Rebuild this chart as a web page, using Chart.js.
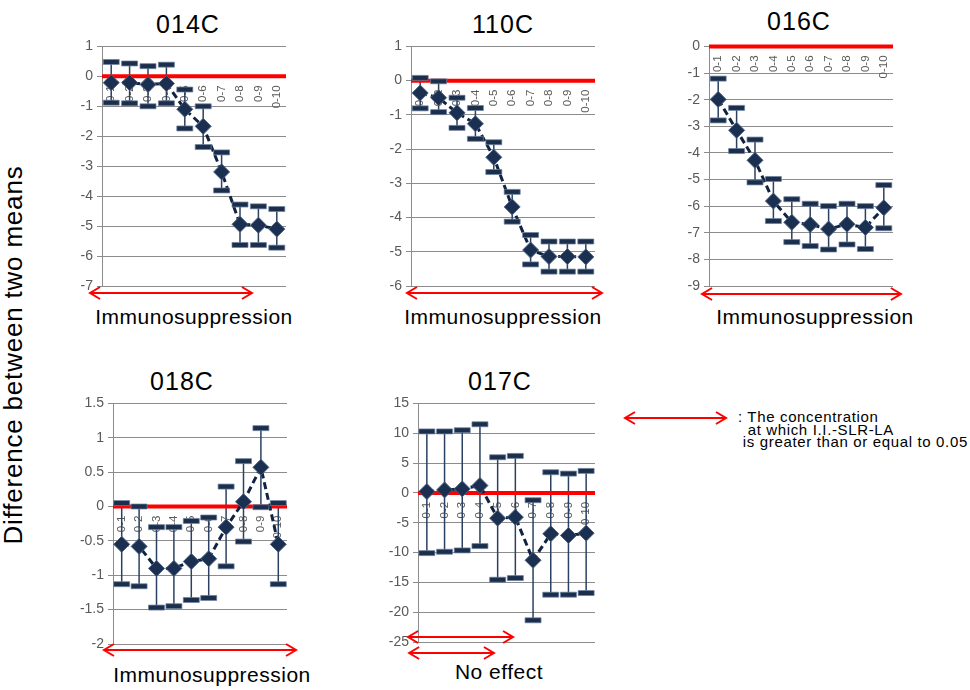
<!DOCTYPE html>
<html>
<head>
<meta charset="utf-8">
<script src="https://cdn.jsdelivr.net/npm/chart.js@4"></script>
<style>
  body { margin: 0; background: #fff; width: 970px; height: 690px; position: relative; overflow: hidden;
         font-family: 'Liberation Sans', Arial, sans-serif; }
  canvas { position: absolute; }
  .t { position: absolute; transform: translate(-50%, -50%); white-space: nowrap; color: #000; }
  .title { font-size: 25px; letter-spacing: 1px; }
  .sub { font-size: 21px; letter-spacing: 0.5px; }
  .ylab { font-size: 26px; letter-spacing: 0.8px; transform: translate(-50%, -50%) rotate(-90deg); }
  .legend { position: absolute; left: 738px; top: 411px; font-size: 15px; letter-spacing: 0.65px;
            line-height: 12.6px; color: #000; white-space: pre; }
</style>
</head>
<body>
<div class="t ylab" style="left:13px; top:355px;">Difference between two means</div>

<div class="t title" style="left:188px; top:24px;">014C</div>
<div class="t title" style="left:503px; top:24px;">110C</div>
<div class="t title" style="left:799px; top:21px;">016C</div>
<div class="t title" style="left:182px; top:381px;">018C</div>
<div class="t title" style="left:500px; top:381px;">017C</div>

<div class="t sub" style="left:194px; top:317px;">Immunosuppression</div>
<div class="t sub" style="left:503px; top:317px;">Immunosuppression</div>
<div class="t sub" style="left:815px; top:317px;">Immunosuppression</div>
<div class="t sub" style="left:212px; top:675px;">Immunosuppression</div>
<div class="t sub" style="left:499px; top:672px;">No effect</div>

<svg style="position:absolute; left:615px; top:405px;" width="120" height="26">
  <g stroke="#ff0000" stroke-width="2" fill="none">
    <line x1="10" y1="13" x2="111" y2="13"/>
    <polyline points="20,7 10,13 20,19"/>
    <polyline points="101,7 111,13 101,19"/>
  </g>
</svg>
<div class="legend">: The concentration
  at which I.I.-SLR-LA
 is greater than or equal to 0.05</div>

<canvas id="c014" width="249" height="282" style="left:57px; top:34px;"></canvas>
<canvas id="c110" width="249" height="282" style="left:366px; top:34px;"></canvas>
<canvas id="c016" width="249" height="282" style="left:664px; top:34px;"></canvas>
<canvas id="c018" width="239" height="283" style="left:68px; top:391px;"></canvas>
<canvas id="c017" width="242" height="281" style="left:373px; top:391px;"></canvas>

<script>
const categories = ['0-1', '0-2', '0-3', '0-4', '0-5', '0-6', '0-7', '0-8', '0-9', '0-10'];

// 014C
const mean014 = [-0.21, -0.21, -0.27, -0.24, -1.1, -1.67, -3.19, -4.94, -4.97, -5.1];
const upper014 = [0.48, 0.43, 0.34, 0.39, -0.44, -1.0, -2.54, -4.28, -4.34, -4.43];
const lower014 = [-0.88, -0.9, -1.0, -0.9, -1.74, -2.36, -3.81, -5.63, -5.63, -5.72];

// 110C
const mean110 = [-0.36, -0.5, -0.94, -1.26, -2.24, -3.69, -4.95, -5.14, -5.14, -5.15];
const upper110 = [0.08, -0.02, -0.5, -0.8, -1.8, -3.25, -4.51, -4.7, -4.7, -4.7];
const lower110 = [-0.81, -0.92, -1.38, -1.7, -2.67, -4.12, -5.37, -5.58, -5.58, -5.58];

// 016C
const mean016 = [-1.99, -3.15, -4.28, -5.81, -6.61, -6.69, -6.86, -6.68, -6.8, -6.06];
const upper016 = [-1.21, -2.31, -3.5, -4.98, -5.74, -5.91, -6.0, -5.91, -6.0, -5.21];
const lower016 = [-2.78, -3.93, -5.11, -6.56, -7.35, -7.5, -7.63, -7.44, -7.61, -6.83];

// 018C
const mean018 = [-0.55, -0.58, -0.9, -0.9, -0.8, -0.76, -0.3, 0.07, 0.57, -0.55];
const upper018 = [0.05, 0.0, -0.3, -0.3, -0.21, -0.16, 0.29, 0.66, 1.14, 0.05];
const lower018 = [-1.13, -1.16, -1.47, -1.45, -1.36, -1.33, -0.87, -0.51, -0.01, -1.13];

// 017C
const mean017 = [0.22, 0.5, 0.67, 1.23, -4.24, -4.07, -11.3, -6.86, -7.14, -6.75];
const upper017 = [10.3, 10.3, 10.5, 11.5, 5.97, 6.2, -1.23, 3.46, 3.23, 3.68];
const lower017 = [-10.1, -9.87, -9.65, -8.92, -14.56, -14.28, -21.36, -17.07, -17.07, -16.79];

// ranges of the red arrows, in category units (index -0.5 = left edge of the axis)
const arrows014 = [[-1.15, 7.65]];
const arrows110 = [[-0.72, 9.88]];
const arrows016 = [[-0.88, 9.93]];
const arrows018 = [[-1.02, 10.02]];
const arrows017 = [[-1.06, 4.87], [-1.0, 3.79]];

const errorBars = {
  id: 'errorBars',
  beforeDatasetsDraw(chart, args, opts) {
    const { ctx, chartArea: a, scales: { x, y } } = chart;
    ctx.save();
    ctx.strokeStyle = '#2b4162';
    ctx.lineWidth = 1.5;
    opts.upper.forEach((h, i) => {
      const px = x.getPixelForValue(i);
      ctx.beginPath();
      ctx.moveTo(px, y.getPixelForValue(h));
      ctx.lineTo(px, y.getPixelForValue(opts.lower[i]));
      ctx.stroke();
    });
    // red zero line
    const y0 = y.getPixelForValue(0);
    ctx.strokeStyle = '#ff0000';
    ctx.lineWidth = 4;
    ctx.beginPath();
    ctx.moveTo(a.left, y0);
    ctx.lineTo(a.right, y0);
    ctx.stroke();
    ctx.restore();
  },
  afterDatasetsDraw(chart, args, opts) {
    const { ctx, scales: { x, y } } = chart;
    ctx.save();
    ctx.fillStyle = '#1b2f4c';
    ctx.strokeStyle = 'rgba(110,130,160,0.9)';
    ctx.lineWidth = 0.8;
    const caps = opts.upper.concat(opts.lower);
    caps.forEach((v, k) => {
      const px = x.getPixelForValue(k % opts.upper.length);
      const py = y.getPixelForValue(v);
      ctx.beginPath();
      ctx.rect(px - 8, py - 2.5, 16, 5);
      ctx.fill();
      ctx.stroke();
    });
    ctx.restore();
  },
  afterDraw(chart, args, opts) {
    const { ctx, chartArea: a, scales: { x } } = chart;
    ctx.save();
    ctx.strokeStyle = '#ff0000';
    ctx.lineWidth = 2;
    opts.arrows.forEach(([from, to], k) => {
      const yy = a.bottom + opts.arrowY[k];
      const x1 = x.getPixelForValue(from);
      const x2 = x.getPixelForValue(to);
      ctx.beginPath();
      ctx.moveTo(x1, yy); ctx.lineTo(x2, yy);
      ctx.moveTo(x1 + 10, yy - 6); ctx.lineTo(x1, yy); ctx.lineTo(x1 + 10, yy + 6);
      ctx.moveTo(x2 - 10, yy - 6); ctx.lineTo(x2, yy); ctx.lineTo(x2 - 10, yy + 6);
      ctx.stroke();
    });
    ctx.restore();
  }
};

function makePanel(id, means, upper, lower, yMin, yMax, step, arrows, arrowY) {
  new Chart(document.getElementById(id), {
    type: 'line',
    data: {
      labels: categories,
      datasets: [{
        data: means,
        borderColor: '#0f2342',
        borderWidth: 3,
        borderDash: [7, 4],
        pointStyle: 'rectRot',
        pointRadius: 8,
        pointBackgroundColor: '#1b3051',
        pointBorderColor: '#4a6082',
        pointBorderWidth: 1,
        tension: 0,
        clip: false
      }]
    },
    options: {
      responsive: false,
      animation: false,
      devicePixelRatio: 1,
      events: [],
      layout: { padding: { top: 12, right: 20, bottom: 30, left: 0 } },
      plugins: {
        legend: { display: false },
        tooltip: { enabled: false },
        errorBars: { upper, lower, arrows, arrowY }
      },
      scales: {
        x: {
          position: { y: 0 },
          offset: true,
          grid: { display: false, drawTicks: false },
          border: { display: false },
          ticks: {
            autoSkip: false, minRotation: 90, maxRotation: 90, padding: 9,
            color: '#595959', font: { family: "'Liberation Sans', Arial", size: 11.5 }
          }
        },
        y: {
          min: yMin, max: yMax,
          afterFit: s => { s.width = 45; },
          grid: { color: '#8c8c8c', lineWidth: 1, tickLength: 5 },
          border: { color: '#8c8c8c', width: 1 },
          ticks: {
            stepSize: step, padding: 4,
            callback: v => String(v),
            color: '#595959', font: { family: "'Liberation Sans', Arial", size: 14 }
          }
        }
      }
    },
    plugins: [errorBars]
  });
}

makePanel('c014', mean014, upper014, lower014, -7, 1, 1, arrows014, [7]);
makePanel('c110', mean110, upper110, lower110, -6, 1, 1, arrows110, [7]);
makePanel('c016', mean016, upper016, lower016, -9, 0, 1, arrows016, [8]);
makePanel('c018', mean018, upper018, lower018, -2, 1.5, 0.5, arrows018, [6]);
makePanel('c017', mean017, upper017, lower017, -25, 15, 5, arrows017, [-5, 11]);
</script>
</body>
</html>
